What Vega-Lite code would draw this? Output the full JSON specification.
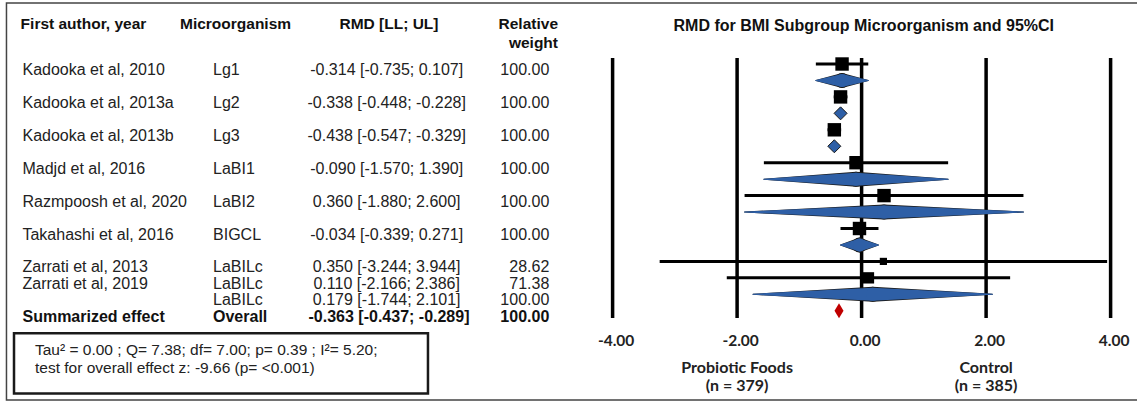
{
  "$schema": "https://vega.github.io/schema/vega-lite/v6.json",
  "width": 1137,
  "height": 403,
  "autosize": "none",
  "padding": 0,
  "background": "#ffffff",
  "config": {
    "view": {"stroke": null},
    "font": "Liberation Sans",
    "axis": {"grid": false},
    "axisY": {"disable": true},
    "axisX": {"domain": false, "ticks": false, "grid": false, "title": null, "labelFont": "Lato", "labelFontWeight": "bold", "labelFontSize": 15.5, "labelColor": "#222222", "labelPadding": 0, "labelFlush": false, "labelOverlap": false, "labelOffset": 3, "offset": -70},
    "text": {"font": "Liberation Sans", "fontSize": 16, "color": "#222222", "baseline": "middle"}
  },
  "datasets": {
    "forest": [
      {"row": 0, "type": "study", "author": "Kadooka et al, 2010", "organism": "Lg1", "rmd_text": "-0.314 [-0.735; 0.107]", "weight_text": "100.00", "est": -0.314, "lo": -0.735, "hi": 0.107, "weight": 100},
      {"row": 1, "type": "subgroup", "group": "Lg1", "est": -0.314, "lo": -0.735, "hi": 0.107, "weight": 100},
      {"row": 2, "type": "study", "author": "Kadooka et al, 2013a", "organism": "Lg2", "rmd_text": "-0.338 [-0.448; -0.228]", "weight_text": "100.00", "est": -0.338, "lo": -0.448, "hi": -0.228, "weight": 100},
      {"row": 3, "type": "subgroup", "group": "Lg2", "est": -0.338, "lo": -0.448, "hi": -0.228, "weight": 100},
      {"row": 4, "type": "study", "author": "Kadooka et al, 2013b", "organism": "Lg3", "rmd_text": "-0.438 [-0.547; -0.329]", "weight_text": "100.00", "est": -0.438, "lo": -0.547, "hi": -0.329, "weight": 100},
      {"row": 5, "type": "subgroup", "group": "Lg3", "est": -0.438, "lo": -0.547, "hi": -0.329, "weight": 100},
      {"row": 6, "type": "study", "author": "Madjd et al, 2016", "organism": "LaBI1", "rmd_text": "-0.090 [-1.570; 1.390]", "weight_text": "100.00", "est": -0.09, "lo": -1.57, "hi": 1.39, "weight": 100},
      {"row": 7, "type": "subgroup", "group": "LaBI1", "est": -0.09, "lo": -1.57, "hi": 1.39, "weight": 100},
      {"row": 8, "type": "study", "author": "Razmpoosh et al, 2020", "organism": "LaBI2", "rmd_text": "0.360 [-1.880; 2.600]", "weight_text": "100.00", "est": 0.36, "lo": -1.88, "hi": 2.6, "weight": 100},
      {"row": 9, "type": "subgroup", "group": "LaBI2", "est": 0.36, "lo": -1.88, "hi": 2.6, "weight": 100},
      {"row": 10, "type": "study", "author": "Takahashi et al, 2016", "organism": "BIGCL", "rmd_text": "-0.034 [-0.339; 0.271]", "weight_text": "100.00", "est": -0.034, "lo": -0.339, "hi": 0.271, "weight": 100},
      {"row": 11, "type": "subgroup", "group": "BIGCL", "est": -0.034, "lo": -0.339, "hi": 0.271, "weight": 100},
      {"row": 12, "type": "study", "author": "Zarrati et al, 2013", "organism": "LaBILc", "rmd_text": "0.350 [-3.244; 3.944]", "weight_text": "28.62", "est": 0.35, "lo": -3.244, "hi": 3.944, "weight": 28.62},
      {"row": 13, "type": "study", "author": "Zarrati et al, 2019", "organism": "LaBILc", "rmd_text": "0.110 [-2.166; 2.386]", "weight_text": "71.38", "est": 0.11, "lo": -2.166, "hi": 2.386, "weight": 71.38},
      {"row": 14, "type": "subgroup", "group": "LaBILc", "organism": "LaBILc", "rmd_text": "0.179 [-1.744; 2.101]", "weight_text": "100.00", "est": 0.179, "lo": -1.744, "hi": 2.101, "weight": 100},
      {"row": 15, "type": "overall", "author": "Summarized effect", "organism": "Overall", "rmd_text": "-0.363 [-0.437; -0.289]", "weight_text": "100.00", "est": -0.363, "lo": -0.437, "hi": -0.289, "weight": 100}
    ],
    "ticks": [{"v": -4}, {"v": -2}, {"v": 0}, {"v": 2}, {"v": 4}]
  },
  "resolve": {"scale": {"size": "independent"}},
  "layer": [
    {
      "data": {"values": [{}]},
      "mark": {"type": "rect", "fill": null, "stroke": "#444444", "strokeWidth": 1.5},
      "encoding": {
        "x": {"datum": -13.737, "type": "quantitative"},
        "x2": {"datum": 4.6},
        "y": {"datum": -3.708, "type": "quantitative", "axis": null},
        "y2": {"datum": 20.426}
      }
    },
    {
      "data": {"values": [{}]},
      "mark": {"type": "rect", "fill": "#ffffff", "stroke": "#1a1a1a", "strokeWidth": 2.5},
      "encoding": {
        "x": {"datum": -13.616, "type": "quantitative"},
        "x2": {"datum": -6.966},
        "y": {"datum": 16.37, "type": "quantitative", "axis": null},
        "y2": {"datum": 20.03}
      }
    },
    {
      "data": {"values": [{}]},
      "mark": {"type": "text", "align": "left", "fontSize": 15.5, "lineHeight": 17.4, "text": ["Tau² = 0.00 ; Q= 7.38; df= 7.00; p= 0.39 ; I²= 5.20;", "test for overall effect z: -9.66 (p= <0.001)"]},
      "encoding": {
        "x": {"datum": -13.279, "type": "quantitative"},
        "y": {"datum": 17.4, "type": "quantitative", "axis": null}
      }
    },
    {
      "data": {"name": "ticks"},
      "mark": {"type": "rule", "color": "#000000", "strokeWidth": 3.5},
      "encoding": {
        "x": {"field": "v", "type": "quantitative", "scale": {"domain": [-13.841, 4.424], "nice": false, "zero": false}, "axis": {"values": [-4, -2, 0, 2, 4], "format": ".2f", "labelExpr": "replace(datum.label, '\u2212', '-')", "title": null, "grid": false, "domain": false, "ticks": false}},
        "y": {"datum": -0.365, "type": "quantitative", "scale": {"domain": [-3.891, 20.608], "reverse": true, "nice": false, "zero": false}, "axis": null},
        "y2": {"datum": 15.44}
      }
    },
    {
      "data": {"name": "forest"},
      "transform": [{"filter": "datum.type == 'study'"}],
      "mark": {"type": "rule", "color": "#000000", "strokeWidth": 3},
      "encoding": {
        "x": {"field": "lo", "type": "quantitative"},
        "x2": {"field": "hi"},
        "y": {"field": "row", "type": "quantitative", "axis": null}
      }
    },
    {
      "data": {"name": "forest"},
      "transform": [{"filter": "datum.type == 'subgroup' && datum.hi - datum.lo > 0.5"}, {"fold": ["lo", "est"], "as": ["vertex", "val"]}],
      "mark": {"type": "trail", "fill": "#1a1a1a"},
      "encoding": {
        "x": {"field": "val", "type": "quantitative"},
        "y": {"field": "row", "type": "quantitative", "axis": null},
        "detail": {"field": "row"},
        "order": {"field": "val", "type": "quantitative"},
        "size": {"field": "vertex", "type": "ordinal", "scale": {"domain": ["lo", "est"], "range": [0, 15]}, "legend": null}
      }
    },
    {
      "data": {"name": "forest"},
      "transform": [{"filter": "datum.type == 'subgroup' && datum.hi - datum.lo > 0.5"}, {"fold": ["est", "hi"], "as": ["vertex", "val"]}],
      "mark": {"type": "trail", "fill": "#1a1a1a"},
      "encoding": {
        "x": {"field": "val", "type": "quantitative"},
        "y": {"field": "row", "type": "quantitative", "axis": null},
        "detail": {"field": "row"},
        "order": {"field": "val", "type": "quantitative"},
        "size": {"field": "vertex", "type": "ordinal", "scale": {"domain": ["hi", "est"], "range": [0, 15]}, "legend": null}
      }
    },
    {
      "data": {"name": "forest"},
      "transform": [{"filter": "datum.type == 'subgroup' && datum.hi - datum.lo > 0.5"}, {"fold": ["lo", "est"], "as": ["vertex", "val"]}],
      "mark": {"type": "trail", "fill": "#2e5fa6"},
      "encoding": {
        "x": {"field": "val", "type": "quantitative"},
        "y": {"field": "row", "type": "quantitative", "axis": null},
        "detail": {"field": "row"},
        "order": {"field": "val", "type": "quantitative"},
        "size": {"field": "vertex", "type": "ordinal", "scale": {"domain": ["lo", "est"], "range": [0, 13]}, "legend": null}
      }
    },
    {
      "data": {"name": "forest"},
      "transform": [{"filter": "datum.type == 'subgroup' && datum.hi - datum.lo > 0.5"}, {"fold": ["est", "hi"], "as": ["vertex", "val"]}],
      "mark": {"type": "trail", "fill": "#2e5fa6"},
      "encoding": {
        "x": {"field": "val", "type": "quantitative"},
        "y": {"field": "row", "type": "quantitative", "axis": null},
        "detail": {"field": "row"},
        "order": {"field": "val", "type": "quantitative"},
        "size": {"field": "vertex", "type": "ordinal", "scale": {"domain": ["hi", "est"], "range": [0, 13]}, "legend": null}
      }
    },
    {
      "data": {"name": "forest"},
      "transform": [{"filter": "datum.type == 'subgroup' && datum.hi - datum.lo <= 0.5"}],
      "mark": {"type": "point", "shape": "diamond", "filled": true, "fill": "#2e5fa6", "stroke": "#1a1a1a", "strokeWidth": 1, "size": 169, "opacity": 1},
      "encoding": {
        "x": {"field": "est", "type": "quantitative"},
        "y": {"field": "row", "type": "quantitative", "axis": null}
      }
    },
    {
      "data": {"name": "forest"},
      "transform": [{"filter": "datum.type == 'study'"}],
      "mark": {"type": "point", "shape": "square", "filled": true, "color": "#000000", "opacity": 1},
      "encoding": {
        "x": {"field": "est", "type": "quantitative"},
        "y": {"field": "row", "type": "quantitative", "axis": null},
        "size": {"field": "weight", "type": "quantitative", "scale": {"domain": [0, 100], "range": [0, 180], "zero": true}, "legend": null}
      }
    },
    {
      "data": {"name": "forest"},
      "transform": [{"filter": "datum.type == 'overall'"}],
      "mark": {"type": "point", "shape": "M0,-1L0.6,0L0,1L-0.6,0Z", "filled": true, "color": "#c00000", "size": 225, "opacity": 1},
      "encoding": {
        "x": {"field": "est", "type": "quantitative"},
        "y": {"field": "row", "type": "quantitative", "axis": null}
      }
    },
    {
      "data": {"name": "forest"},
      "transform": [{"filter": "isValid(datum.author) && datum.type != 'overall'"}],
      "mark": {"type": "text", "align": "left", "dy": 6},
      "encoding": {
        "x": {"datum": -13.48, "type": "quantitative"},
        "y": {"field": "row", "type": "quantitative", "axis": null},
        "text": {"field": "author"}
      }
    },
    {
      "data": {"name": "forest"},
      "transform": [{"filter": "isValid(datum.organism) && datum.type != 'overall'"}],
      "mark": {"type": "text", "align": "left", "dy": 6},
      "encoding": {
        "x": {"datum": -10.419, "type": "quantitative"},
        "y": {"field": "row", "type": "quantitative", "axis": null},
        "text": {"field": "organism"}
      }
    },
    {
      "data": {"name": "forest"},
      "transform": [{"filter": "isValid(datum.rmd_text) && datum.type != 'overall'"}],
      "mark": {"type": "text", "align": "center", "dy": 6},
      "encoding": {
        "x": {"datum": -7.629, "type": "quantitative"},
        "y": {"field": "row", "type": "quantitative", "axis": null},
        "text": {"field": "rmd_text"}
      }
    },
    {
      "data": {"name": "forest"},
      "transform": [{"filter": "isValid(datum.weight_text) && datum.type != 'overall'"}],
      "mark": {"type": "text", "align": "right", "dy": 6},
      "encoding": {
        "x": {"datum": -5.017, "type": "quantitative"},
        "y": {"field": "row", "type": "quantitative", "axis": null},
        "text": {"field": "weight_text"}
      }
    },
    {
      "data": {"name": "forest"},
      "transform": [{"filter": "datum.type == 'overall'"}],
      "mark": {"type": "text", "align": "left", "dy": 6, "fontWeight": "bold", "color": "#111111"},
      "encoding": {
        "x": {"datum": -13.48, "type": "quantitative"},
        "y": {"field": "row", "type": "quantitative", "axis": null},
        "text": {"field": "author"}
      }
    },
    {
      "data": {"name": "forest"},
      "transform": [{"filter": "datum.type == 'overall'"}],
      "mark": {"type": "text", "align": "left", "dy": 6, "fontWeight": "bold", "color": "#111111"},
      "encoding": {
        "x": {"datum": -10.419, "type": "quantitative"},
        "y": {"field": "row", "type": "quantitative", "axis": null},
        "text": {"field": "organism"}
      }
    },
    {
      "data": {"name": "forest"},
      "transform": [{"filter": "datum.type == 'overall'"}],
      "mark": {"type": "text", "align": "center", "dy": 6, "fontWeight": "bold", "color": "#111111"},
      "encoding": {
        "x": {"datum": -7.592, "type": "quantitative"},
        "y": {"field": "row", "type": "quantitative", "axis": null},
        "text": {"field": "rmd_text"}
      }
    },
    {
      "data": {"name": "forest"},
      "transform": [{"filter": "datum.type == 'overall'"}],
      "mark": {"type": "text", "align": "right", "dy": 6, "fontWeight": "bold", "color": "#111111"},
      "encoding": {
        "x": {"datum": -5.017, "type": "quantitative"},
        "y": {"field": "row", "type": "quantitative", "axis": null},
        "text": {"field": "weight_text"}
      }
    },
    {
      "data": {"values": [{}]},
      "mark": {"type": "text", "align": "left", "fontWeight": "bold", "fontSize": 15.5, "color": "#111111", "text": "First author, year"},
      "encoding": {
        "x": {"datum": -13.51, "type": "quantitative"},
        "y": {"datum": -2.413, "type": "quantitative", "axis": null}
      }
    },
    {
      "data": {"values": [{}]},
      "mark": {"type": "text", "align": "left", "fontWeight": "bold", "fontSize": 15.5, "color": "#111111", "text": "Microorganism"},
      "encoding": {
        "x": {"datum": -10.95, "type": "quantitative"},
        "y": {"datum": -2.413, "type": "quantitative", "axis": null}
      }
    },
    {
      "data": {"values": [{}]},
      "mark": {"type": "text", "align": "center", "fontWeight": "bold", "fontSize": 15.5, "color": "#111111", "text": "RMD [LL; UL]"},
      "encoding": {
        "x": {"datum": -7.592, "type": "quantitative"},
        "y": {"datum": -2.413, "type": "quantitative", "axis": null}
      }
    },
    {
      "data": {"values": [{}]},
      "mark": {"type": "text", "align": "right", "fontWeight": "bold", "fontSize": 15.5, "lineHeight": 18.4, "color": "#111111", "text": ["Relative", "weight"]},
      "encoding": {
        "x": {"datum": -4.877, "type": "quantitative"},
        "y": {"datum": -2.413, "type": "quantitative", "axis": null}
      }
    },
    {
      "data": {"values": [{}]},
      "mark": {"type": "text", "align": "center", "fontWeight": "bold", "fontSize": 16, "color": "#111111", "text": "RMD for BMI Subgroup Microorganism and 95%CI"},
      "encoding": {
        "x": {"datum": 0.035, "type": "quantitative"},
        "y": {"datum": -2.34, "type": "quantitative", "axis": null}
      }
    },
    {
      "data": {"values": [{}]},
      "mark": {"type": "text", "align": "center", "font": "Lato", "fontWeight": "bold", "fontSize": 16, "lineHeight": 17.8, "color": "#222222", "text": ["Probiotic Foods", "(n = 379)"]},
      "encoding": {
        "x": {"datum": -2, "type": "quantitative"},
        "y": {"datum": 18.5, "type": "quantitative", "axis": null}
      }
    },
    {
      "data": {"values": [{}]},
      "mark": {"type": "text", "align": "center", "font": "Lato", "fontWeight": "bold", "fontSize": 16, "lineHeight": 17.8, "color": "#222222", "text": ["Control", "(n = 385)"]},
      "encoding": {
        "x": {"datum": 2, "type": "quantitative"},
        "y": {"datum": 18.5, "type": "quantitative", "axis": null}
      }
    }
  ]
}
